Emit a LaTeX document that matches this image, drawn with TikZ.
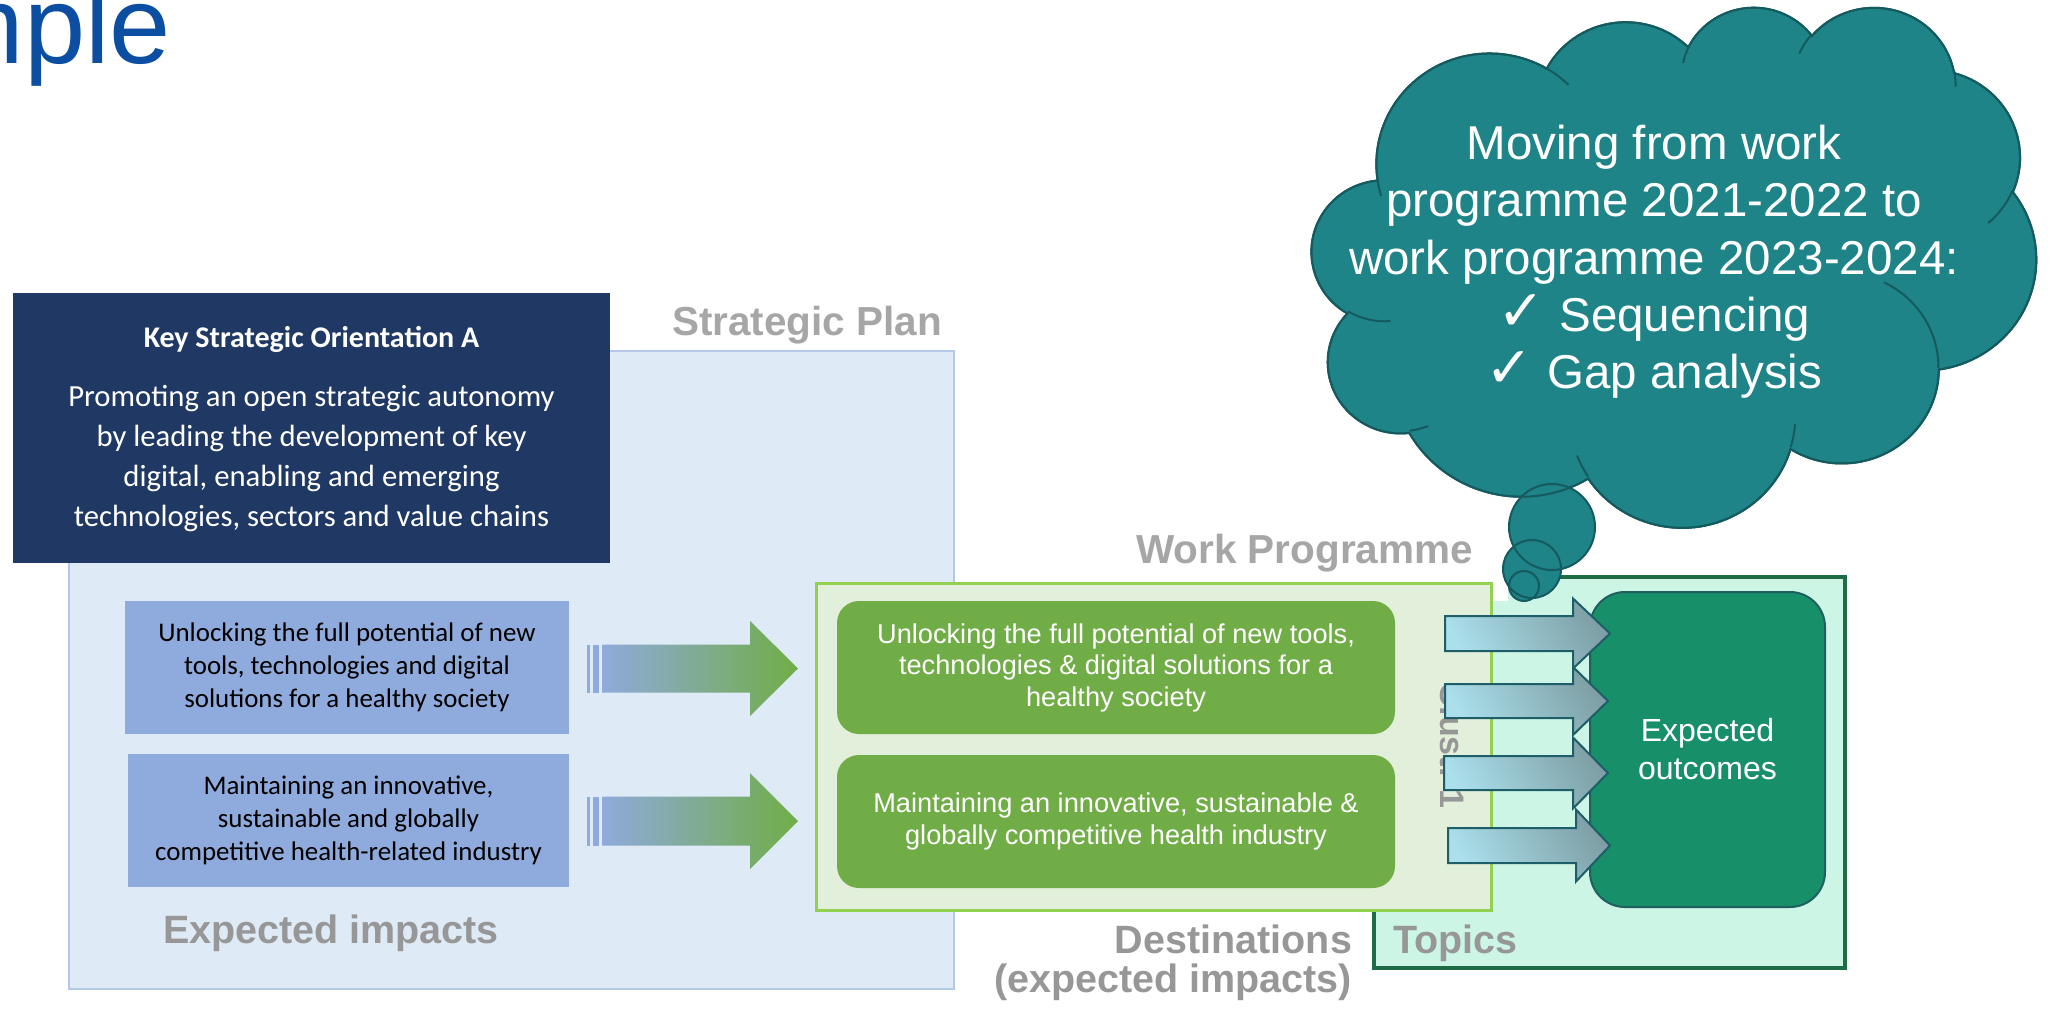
\documentclass[tikz,border=0pt]{standalone}
\usepackage{fontspec}
\setmainfont{Liberation Sans}
\newfontfamily\calibri{Carlito}
\newfontfamily\dejavu{DejaVu Sans}
\definecolor{spfill}{HTML}{DEEAF6}
\definecolor{spline}{HTML}{B4C7E7}
\definecolor{navy}{HTML}{203864}
\definecolor{bluebox}{HTML}{8FAADC}
\definecolor{greenbox}{HTML}{70AD47}
\definecolor{wpfill}{HTML}{E2EFDA}
\definecolor{wpline}{HTML}{92D050}
\definecolor{topfill}{HTML}{CCF5E6}
\definecolor{topline}{HTML}{1E6B46}
\definecolor{outfill}{HTML}{17906A}
\definecolor{outedge}{HTML}{1F5F60}
\definecolor{arrlight}{HTML}{AADFEB}
\definecolor{arrdark}{HTML}{7E9FA5}
\definecolor{arredge}{HTML}{1D5E68}
\definecolor{cloudfill}{HTML}{1F8487}
\definecolor{cloudedge}{HTML}{145A5E}
\definecolor{titleblue}{HTML}{0B4EA2}
\definecolor{lbl}{HTML}{A6A6A6}
\definecolor{lbldark}{HTML}{979797}
% visual (DrawingML) angle -> parametric angle
\pgfmathdeclarefunction{vtp}{3}{%
  \begingroup
  \pgfmathparse{atan2((#2)*sin(#1),(#3)*cos(#1))}%
  \pgfmathsmuggle\pgfmathresult
  \endgroup}
\pgfmathdeclarefunction{vtd}{4}{%
  \begingroup
  \pgfmathparse{mod(atan2((#3)*sin((#1)+(#2)),(#4)*cos((#1)+(#2)))-atan2((#3)*sin(#1),(#4)*cos(#1))+720,360)}%
  \pgfmathsmuggle\pgfmathresult
  \endgroup}
\tikzset{
  carc/.style n args={4}{x radius=#3, y radius=#4, start angle={vtp(#1,#3,#4)}, delta angle={vtd(#1,#2,#3,#4)}},
  spbox/.style={draw=spline, fill=spfill, line width=2.5pt},
  navybox/.style={fill=navy},
  bluecell/.style={fill=bluebox, text=black, align=center, font=\calibri\fontsize{26.9}{33}\selectfont},
  greencell/.style={fill=greenbox, rounded corners=22pt, text=white, align=center, font=\fontsize{27.2}{31.5}\selectfont},
  wpbox/.style={draw=wpline, fill=wpfill, line width=3pt},
  topbox/.style={draw=topline, fill=topfill, line width=3.5pt},
  outbox/.style={draw=outedge, fill=outfill, line width=2pt, rounded corners=35pt, text=white, align=center, font=\fontsize{32}{38}\selectfont},
  lblbig/.style={text=lbl, font=\bfseries\fontsize{40.5}{44}\selectfont},
  lbldk/.style={text=lbldark, font=\bfseries\fontsize{39.5}{44}\selectfont},
  cloudtxt/.style={text=white, align=center, font=\fontsize{47.5}{57.3}\selectfont},
  cloudstyle/.style={fill=cloudfill},
  cloudline/.style={draw=cloudedge, line width=2pt},
  toparrow/.style={draw=arredge, line width=2pt, top color=arrdark, bottom color=arrlight, shading angle=-60},
  leftarrow/.style={left color=bluebox, right color=greenbox},
}
\newcommand\chk{\smash{\raisebox{1pt}{\dejavu\fontsize{57}{57}\selectfont ✓}}\hspace{14pt}}
\def\cloudshape{(39.00,143.70)
  arc[carc={-190.4875}{123.7805}{67.53}{91.90}]
  arc[carc={-144.1024}{89.9452}{53.33}{72.67}]
  arc[carc={-145.8079}{99.7230}{43.65}{59.45}]
  arc[carc={-130.9861}{117.2417}{48.57}{65.95}]
  arc[carc={-78.7089}{109.0269}{53.33}{72.73}]
  arc[carc={-46.2673}{130.2690}{67.75}{92.20}]
  arc[carc={0.6250}{114.0333}{57.85}{78.67}]
  arc[carc={22.4516}{115.1726}{67.52}{92.15}]
  arc[carc={66.2426}{75.7110}{77.20}{105.43}]
  arc[carc={-274.9421}{146.7356}{43.60}{59.18}]
  arc[carc={-246.8285}{152.5189}{43.45}{59.45}] -- cycle}
\newcommand\stripearw[3]{%
  \fill[bluebox] (587,#1-#2) rectangle (590,#1+#2);
  \fill[bluebox] (593,#1-#2) rectangle (599,#1+#2);
  \path[leftarrow] (602,#1-#2) -- (750,#1-#2) -- (750,#1-#3) -- (798,#1) -- (750,#1+#3) -- (750,#1+#2) -- (602,#1+#2) -- cycle;}
\newcommand\topicarw[6]{%
  \path[toparrow] (#1,#4-#5) -- (#2,#4-#5) -- (#2,#4-#6) -- (#3,#4) -- (#2,#4+#6) -- (#2,#4+#5) -- (#1,#4+#5) -- cycle;}
\begin{document}
\begin{tikzpicture}[x=1pt,y=-1pt, every node/.style={inner sep=0pt, outer sep=0pt}]
\useasboundingbox (0,0) rectangle (2054,1010);
\clip (0,0) rectangle (2054,1010);
% title fragment
\node[anchor=base east, text=titleblue, font=\fontsize{110}{120}\selectfont] (title) at (171,63) {mple};
% strategic plan
\node[spbox, minimum width=885pt, minimum height=638pt] (sp) at (511.5,670) {};
\node[navybox, minimum width=597pt, minimum height=270pt] (ksoa) at (311.5,428) {};
\node[text=white, font=\calibri\bfseries\fontsize{30}{36}\selectfont] (ksoat) at (311.5,339) {Key Strategic Orientation A};
\node[text=white, align=center, font=\calibri\fontsize{30.7}{40}\selectfont] (ksoab) at (311.5,459)
  {Promoting an open strategic autonomy\\by leading the development of key\\digital, enabling and emerging\\technologies, sectors and value chains};
\node[bluecell, minimum width=444pt, minimum height=133pt] (ei1) at (347,667.5)
  {Unlocking the full potential of new\\tools, technologies and digital\\solutions for a healthy society};
\node[bluecell, minimum width=441pt, minimum height=133pt] (ei2) at (348.5,820.5)
  {Maintaining an innovative,\\sustainable and globally\\competitive health-related industry};
\stripearw{668.5}{24}{47.5}
\stripearw{821}{24.5}{48}
% topics box
\node[topbox, minimum width=471pt, minimum height=391pt] (topics) at (1609.5,772.5) {};
\fill[white] (1128,512) rectangle (1508,601);
\node[lblbig, anchor=base west] (wplbl) at (1136,563) {Work Programme};
% work programme box
\node[wpbox, minimum width=675pt, minimum height=327pt] (wp) at (1153.5,746.5) {};
\node[greencell, minimum width=558pt, minimum height=133pt] (d1) at (1116,667.5)
  {Unlocking the full potential of new tools,\\technologies \& digital solutions for a\\healthy society};
\node[greencell, minimum width=558pt, minimum height=133pt] (d2) at (1116,821.5)
  {Maintaining an innovative, sustainable \&\\globally competitive health industry};
\node[lbldk, rotate=-90, font=\bfseries\fontsize{34}{40}\selectfont] (clust) at (1453,745) {Clust. 1};
% expected outcomes
\node[outbox, minimum width=235pt, minimum height=315pt] (outc) at (1707.5,749.5) {Expected\\outcomes};
\topicarw{1445}{1573}{1610}{633.5}{17.5}{35}
\topicarw{1445}{1573}{1608}{701}{17}{34}
\topicarw{1444}{1573}{1608}{773}{17}{35.5}
\topicarw{1448}{1576}{1610}{845.5}{17.5}{36}
% labels
\node[lblbig, anchor=base west] (splbl) at (672,335) {Strategic Plan};
\node[lbldk, anchor=base west] (eilbl) at (163,943) {Expected impacts};
\node[lbldk, anchor=base east] (dest1) at (1352,953) {Destinations};
\node[lbldk, anchor=base east] (dest2) at (1352,992) {(expected impacts)};
\node[lbldk, anchor=base west] (toplbl) at (1393,953) {Topics};
% cloud callout
\begin{scope}[shift={(1312,6)}, x=1.6759pt, y=-1.2037pt]
  \path[cloudstyle, cloudline] \cloudshape;
\end{scope}
\path[cloudstyle] (1552,527) circle[radius=43pt] (1532,569) circle[radius=29pt] (1524,586) circle[radius=15pt];
\path[cloudline] (1552,527) circle[radius=43pt] (1532,569) circle[radius=29pt] (1524,586) circle[radius=15pt];
\begin{scope}[shift={(1312,6)}, x=1.6759pt, y=-1.2037pt]
  \path[cloudline] \cloudshape;
  \path[cloudline]
    (46.93,261.77) arc[carc={86.7420}{26.4295}{43.45}{59.45}]
    (69.28,348.99) arc[carc={73.6105}{11.4475}{43.60}{59.18}]
    (164.78,390.90) arc[carc={137.6242}{14.0811}{67.52}{92.15}]
    (288.27,347.51) arc[carc={6.4533}{15.9984}{67.52}{92.15}]
    (341.29,229.54) arc[carc={-70.2924}{70.9174}{57.85}{78.67}]
    (417.98,153.54) arc[carc={30.3180}{27.7515}{53.33}{72.73}]
    (383.24,54.26) arc[carc={-13.7443}{14.8589}{48.57}{65.95}]
    (290.78,39.52) arc[carc={-149.1815}{18.1954}{48.57}{65.95}]
    (221.41,47.20) arc[carc={-163.4943}{17.6864}{43.65}{59.45}]
    (140.00,51.92) arc[carc={-66.7070}{12.3194}{67.53}{91.90}]
    (41.27,157.89) arc[carc={157.6544}{11.8582}{67.53}{91.90}];
\end{scope}
\node[cloudtxt] (cloudtext) at (1654,262)
  {Moving from work\\programme 2021-2022 to\\work programme 2023-2024:\\\chk Sequencing\\\chk Gap analysis};
\end{tikzpicture}
\end{document}
